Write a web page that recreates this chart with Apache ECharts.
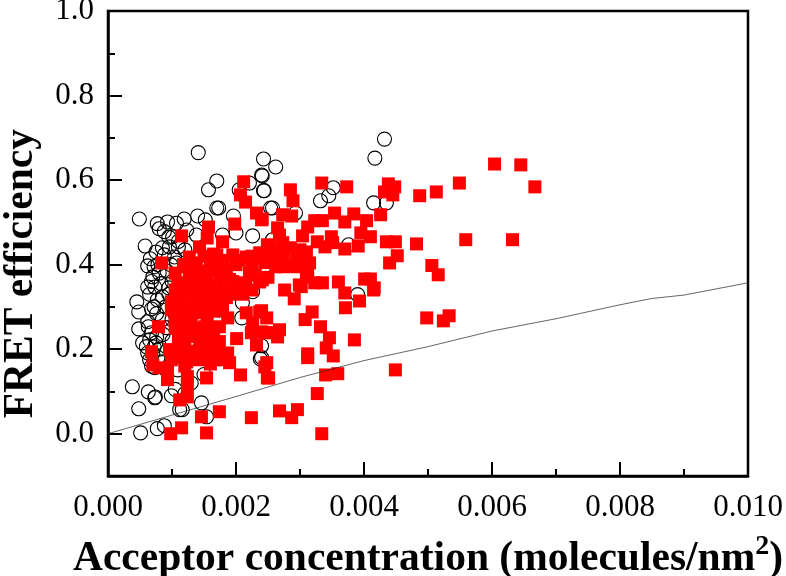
<!DOCTYPE html>
<html>
<head>
<meta charset="utf-8">
<title>FRET efficiency</title>
<script src="https://cdn.jsdelivr.net/npm/echarts@6/dist/echarts.min.js"></script>
<style>
html,body{margin:0;padding:0;background:#fff;}
#main{width:786px;height:576px;}
</style>
</head>
<body>
<div id="main"></div>
<script>
// acceptor concentration, FRET efficiency
var openPoints = [
[0.00141,0.665],[0.00243,0.650],[0.00240,0.612],[0.00170,0.598],[0.00157,0.577],[0.00243,0.575],[0.00205,0.577],[0.00221,0.593],
[0.00173,0.534],[0.00170,0.534],[0.00254,0.534],[0.00140,0.515],[0.00049,0.508],[0.00196,0.515],[0.00152,0.506],[0.00119,0.508],
[0.00077,0.497],[0.00093,0.501],[0.00107,0.498],[0.00080,0.485],[0.00088,0.478],[0.00123,0.482],[0.00101,0.466],[0.00138,0.470],
[0.00179,0.470],[0.00200,0.475],[0.00226,0.468],[0.00058,0.444],[0.00096,0.442],[0.00066,0.414],[0.00062,0.397],[0.00110,0.442],
[0.00104,0.418],[0.00107,0.404],[0.00088,0.423],[0.00070,0.371],[0.00080,0.380],[0.00062,0.347],[0.00083,0.355],[0.00073,0.347],
[0.00432,0.697],[0.00417,0.652],[0.00352,0.582],[0.00345,0.563],[0.00332,0.551],[0.00415,0.546],[0.00435,0.546],[0.00262,0.631],
[0.00241,0.610],[0.00244,0.575],[0.00257,0.534],[0.00293,0.522],[0.00376,0.447],[0.00276,0.407],[0.00257,0.459],[0.00390,0.329],
[0.00240,0.208],[0.00240,0.180],[0.00045,0.312],[0.00048,0.288],[0.00076,0.284],[0.00048,0.248],[0.00063,0.253],[0.00054,0.215],
[0.00065,0.222],[0.00062,0.191],[0.00038,0.111],[0.00063,0.099],[0.00074,0.087],[0.00073,0.085],[0.00099,0.090],[0.00048,0.059],
[0.00112,0.057],[0.00116,0.057],[0.00146,0.073],[0.00154,0.040],[0.00051,0.002],[0.00077,0.012],[0.00088,0.019],[0.00238,0.177],
[0.00174,0.293],[0.00210,0.310],[0.00226,0.336],[0.00077,0.317],[0.00085,0.324],[0.00062,0.265],[0.00091,0.251],[0.00068,0.239],
[0.00076,0.229],[0.00060,0.206],[0.00073,0.156],[0.00065,0.175],[0.00127,0.206],[0.00109,0.151],[0.00209,0.274],[0.00072,0.300],
[0.00085,0.270],[0.00095,0.330],[0.00100,0.360],[0.00092,0.385],[0.00075,0.215],[0.00080,0.200],[0.00082,0.170],[0.00090,0.152],
[0.00070,0.190],[0.00098,0.400],[0.00110,0.455],[0.00120,0.435],[0.00095,0.345],[0.00090,0.300],[0.00100,0.220],[0.00105,0.105],
[0.00120,0.095],[0.00130,0.120],[0.00150,0.140],[0.00065,0.330],[0.00078,0.400],[0.00100,0.270],[0.00068,0.295],[0.00086,0.235],
[0.00085,0.440],[0.00095,0.465],[0.00075,0.430],[0.00072,0.395],[0.00068,0.360],[0.00078,0.180],[0.00072,0.205],[0.00068,0.160]
];
var filledPoints = [
[0.00115,0.468],[0.00084,0.404],[0.00212,0.596],[0.00207,0.565],[0.00215,0.548],[0.00232,0.522],[0.00240,0.506],[0.00198,0.496],
[0.00157,0.489],[0.00155,0.463],[0.00143,0.442],[0.00179,0.454],[0.00170,0.423],[0.00127,0.418],[0.00195,0.423],[0.00216,0.418],
[0.00237,0.428],[0.00249,0.447],[0.00120,0.395],[0.00138,0.404],[0.00163,0.388],[0.00185,0.388],[0.00221,0.380],[0.00205,0.357],
[0.00237,0.359],[0.00109,0.357],[0.00127,0.371],[0.00143,0.357],[0.00334,0.593],[0.00373,0.584],[0.00438,0.591],[0.00448,0.584],
[0.00432,0.572],[0.00445,0.565],[0.00487,0.563],[0.00285,0.577],[0.00289,0.551],[0.00273,0.518],[0.00287,0.515],[0.00241,0.508],
[0.00323,0.504],[0.00335,0.504],[0.00354,0.522],[0.00384,0.520],[0.00370,0.501],[0.00404,0.504],[0.00426,0.518],[0.00312,0.489],
[0.00304,0.468],[0.00395,0.475],[0.00410,0.466],[0.00435,0.454],[0.00449,0.454],[0.00482,0.449],[0.00452,0.421],[0.00440,0.404],
[0.00506,0.398],[0.00327,0.454],[0.00349,0.466],[0.00351,0.452],[0.00339,0.442],[0.00370,0.437],[0.00391,0.444],[0.00310,0.430],
[0.00295,0.416],[0.00315,0.404],[0.00268,0.470],[0.00265,0.487],[0.00273,0.452],[0.00257,0.440],[0.00241,0.418],[0.00268,0.411],
[0.00257,0.407],[0.00312,0.381],[0.00299,0.352],[0.00323,0.357],[0.00335,0.357],[0.00360,0.359],[0.00401,0.366],[0.00410,0.366],
[0.00416,0.345],[0.00276,0.340],[0.00241,0.364],[0.00291,0.319],[0.00302,0.348],[0.00370,0.333],[0.00393,0.314],[0.00371,0.298],
[0.00415,0.340],[0.00319,0.288],[0.00308,0.270],[0.00332,0.253],[0.00346,0.227],[0.00341,0.203],[0.00352,0.184],[0.00385,0.222],
[0.00312,0.189],[0.00312,0.180],[0.00340,0.139],[0.00359,0.142],[0.00327,0.095],[0.00449,0.151],[0.00268,0.054],[0.00296,0.057],
[0.00287,0.038],[0.00334,0.000],[0.00498,0.274],[0.00248,0.168],[0.00251,0.132],[0.00248,0.274],[0.00240,0.291],[0.00268,0.246],
[0.00255,0.239],[0.00240,0.241],[0.00265,0.229],[0.00604,0.638],[0.00645,0.636],[0.00667,0.584],[0.00632,0.459],[0.00559,0.459],
[0.00549,0.593],[0.00513,0.572],[0.00516,0.376],[0.00524,0.267],[0.00533,0.279],[0.00079,0.253],[0.00068,0.194],[0.00070,0.163],
[0.00093,0.128],[0.00093,0.151],[0.00080,0.156],[0.00124,0.135],[0.00124,0.116],[0.00154,0.132],[0.00207,0.139],[0.00112,0.080],
[0.00124,0.087],[0.00146,0.040],[0.00174,0.052],[0.00224,0.038],[0.00115,0.014],[0.00098,0.000],[0.00154,0.002],[0.00201,0.225],
[0.00096,0.199],[0.00112,0.199],[0.00099,0.175],[0.00123,0.170],[0.00143,0.175],[0.00166,0.175],[0.00187,0.191],[0.00190,0.168],
[0.00143,0.199],[0.00146,0.222],[0.00174,0.218],[0.00232,0.210],[0.00224,0.239],[0.00248,0.239],[0.00245,0.158],[0.00249,0.132],
[0.00216,0.286],[0.00237,0.288],[0.00226,0.262],[0.00099,0.312],[0.00099,0.293],[0.00112,0.288],[0.00112,0.246],[0.00127,0.270],
[0.00138,0.310],[0.00148,0.286],[0.00151,0.253],[0.00148,0.227],[0.00179,0.293],[0.00185,0.322],[0.00174,0.253],[0.00187,0.274],
[0.00105,0.380],[0.00118,0.340],[0.00130,0.330],[0.00145,0.335],[0.00155,0.370],[0.00170,0.350],[0.00105,0.340],[0.00115,0.315],
[0.00128,0.300],[0.00150,0.310],[0.00160,0.405],[0.00135,0.385],[0.00120,0.260],[0.00135,0.250],[0.00160,0.320],[0.00165,0.290],
[0.00135,0.195],[0.00155,0.195],[0.00120,0.215],[0.00165,0.240],[0.00195,0.360],[0.00180,0.410],[0.00150,0.420],[0.00225,0.340],
[0.00105,0.270],[0.00105,0.250],[0.00125,0.350],[0.00110,0.300],[0.00118,0.400],[0.00130,0.395],[0.00150,0.385],[0.00175,0.395],
[0.00205,0.410],[0.00225,0.420],[0.00130,0.280],[0.00140,0.290],[0.00155,0.345],[0.00165,0.425],[0.00142,0.320],[0.00125,0.240],
[0.00140,0.230],[0.00155,0.270],[0.00170,0.310],[0.00110,0.225],[0.00130,0.185],[0.00120,0.190],
[0.00200,0.400],[0.00225,0.400],[0.00245,0.405],[0.00255,0.420],[0.00275,0.430],[0.00285,0.400],[0.00295,0.395],[0.00300,0.435],
[0.00285,0.440],[0.00250,0.420],[0.00262,0.395],[0.00275,0.395],[0.00310,0.395],[0.00310,0.371],[0.00190,0.365],[0.00215,0.355],
[0.00175,0.370],[0.00230,0.375],[0.00250,0.370],[0.00195,0.340],[0.00210,0.330],[0.00175,0.335],[0.00190,0.330],[0.00200,0.345],
[0.00160,0.225],[0.00165,0.205],[0.00150,0.205],[0.00105,0.185],[0.00150,0.185],[0.00175,0.190],[0.00160,0.165],[0.00180,0.175],
[0.00120,0.160]
];
var lineX = [0,0.001,0.002,0.003,0.004,0.005,0.006,0.007,0.008,0.0085,0.009,0.01];
var lineY = [0,0.044,0.088,0.133,0.173,0.206,0.243,0.272,0.305,0.320,0.328,0.357];
var xMajorStep = 0.002;
var yMajorTicks = [0,0.2,0.4,0.6,0.8,1.0];
var yMinorTicks = [-0.1,0.1,0.3,0.5,0.7,0.9];

var axisColor = "#000";
var serif = "Liberation Serif";
var myChart = echarts.init(document.getElementById("main"));

var option = {
	backgroundColor: "#fff",
	animation: false,
	grid: {
		left: 108, top: 11, width: 640, height: 465, outerBoundsMode: "none",
		show: true, borderColor: axisColor, borderWidth: 2.5, backgroundColor: "transparent"
	},
	xAxis: {
		type: "value", min: 0, max: 0.01, interval: xMajorStep,
		name: "{t|Acceptor concentration (molecules/nm}{s|2}{t|)}",
		nameLocation: "middle", nameGap: 57,
		nameTextStyle: {
			rich: {
				t: {fontFamily: serif, fontWeight: "bold", fontSize: 41.5, color: "#000"},
				s: {fontFamily: serif, fontWeight: "bold", fontSize: 28, color: "#000", verticalAlign: "top", padding: [0, 0, 24, 0]}
			}
		},
		splitLine: {show: false},
		axisLine: {onZero: false, lineStyle: {color: axisColor, width: 2.5}},
		axisTick: {inside: true, length: 14, lineStyle: {color: axisColor, width: 2}},
		minorTick: {show: true, splitNumber: 2, length: 7, lineStyle: {color: axisColor, width: 2}},
		axisLabel: {
			margin: 16, fontFamily: serif, fontSize: 31, color: "#000",
			formatter: function(v){ return v.toFixed(3); }
		}
	},
	yAxis: [{
		type: "value", min: -0.1, max: 1.0, interval: 0.1,
		splitLine: {show: false},
		axisLine: {onZero: false, lineStyle: {color: axisColor, width: 2.5}},
		axisTick: {inside: true, length: 14, customValues: yMajorTicks, lineStyle: {color: axisColor, width: 2}},
		axisLabel: {
			margin: 14, fontFamily: serif, fontSize: 31, color: "#000", customValues: yMajorTicks,
			formatter: function(v){ return v.toFixed(1); }
		}
	},{
		type: "value", min: -0.1, max: 1.0, interval: 0.1, position: "left",
		splitLine: {show: false},
		axisLine: {show: false},
		axisTick: {inside: true, length: 7, customValues: yMinorTicks, lineStyle: {color: axisColor, width: 2}},
		axisLabel: {show: false}
	}],
	graphic: [{
		type: "text", left: 0, top: 129, z: 10,
		rotation: Math.PI / 2,
		originX: 0, originY: 0,
		style: {text: "FRET efficiency", fontFamily: serif, fontWeight: "bold", fontSize: 41.5, fill: "#000"}
	}],
	series: [{
		type: "scatter", data: openPoints, symbol: "circle", symbolSize: 14, silent: true,
		itemStyle: {color: "rgba(0,0,0,0)", borderColor: "#000", borderWidth: 1.1, opacity: 1}
	},{
		type: "scatter", data: filledPoints, symbol: "rect", symbolSize: 13, silent: true,
		itemStyle: {color: "#ff0000", opacity: 1}
	},{
		type: "line", symbol: "none", silent: true,
		data: lineX.map(function(x, i){ return [x, lineY[i]]; }),
		lineStyle: {color: "#222", width: 0.7}
	}]
};
myChart.setOption(option);
</script>
</body>
</html>
